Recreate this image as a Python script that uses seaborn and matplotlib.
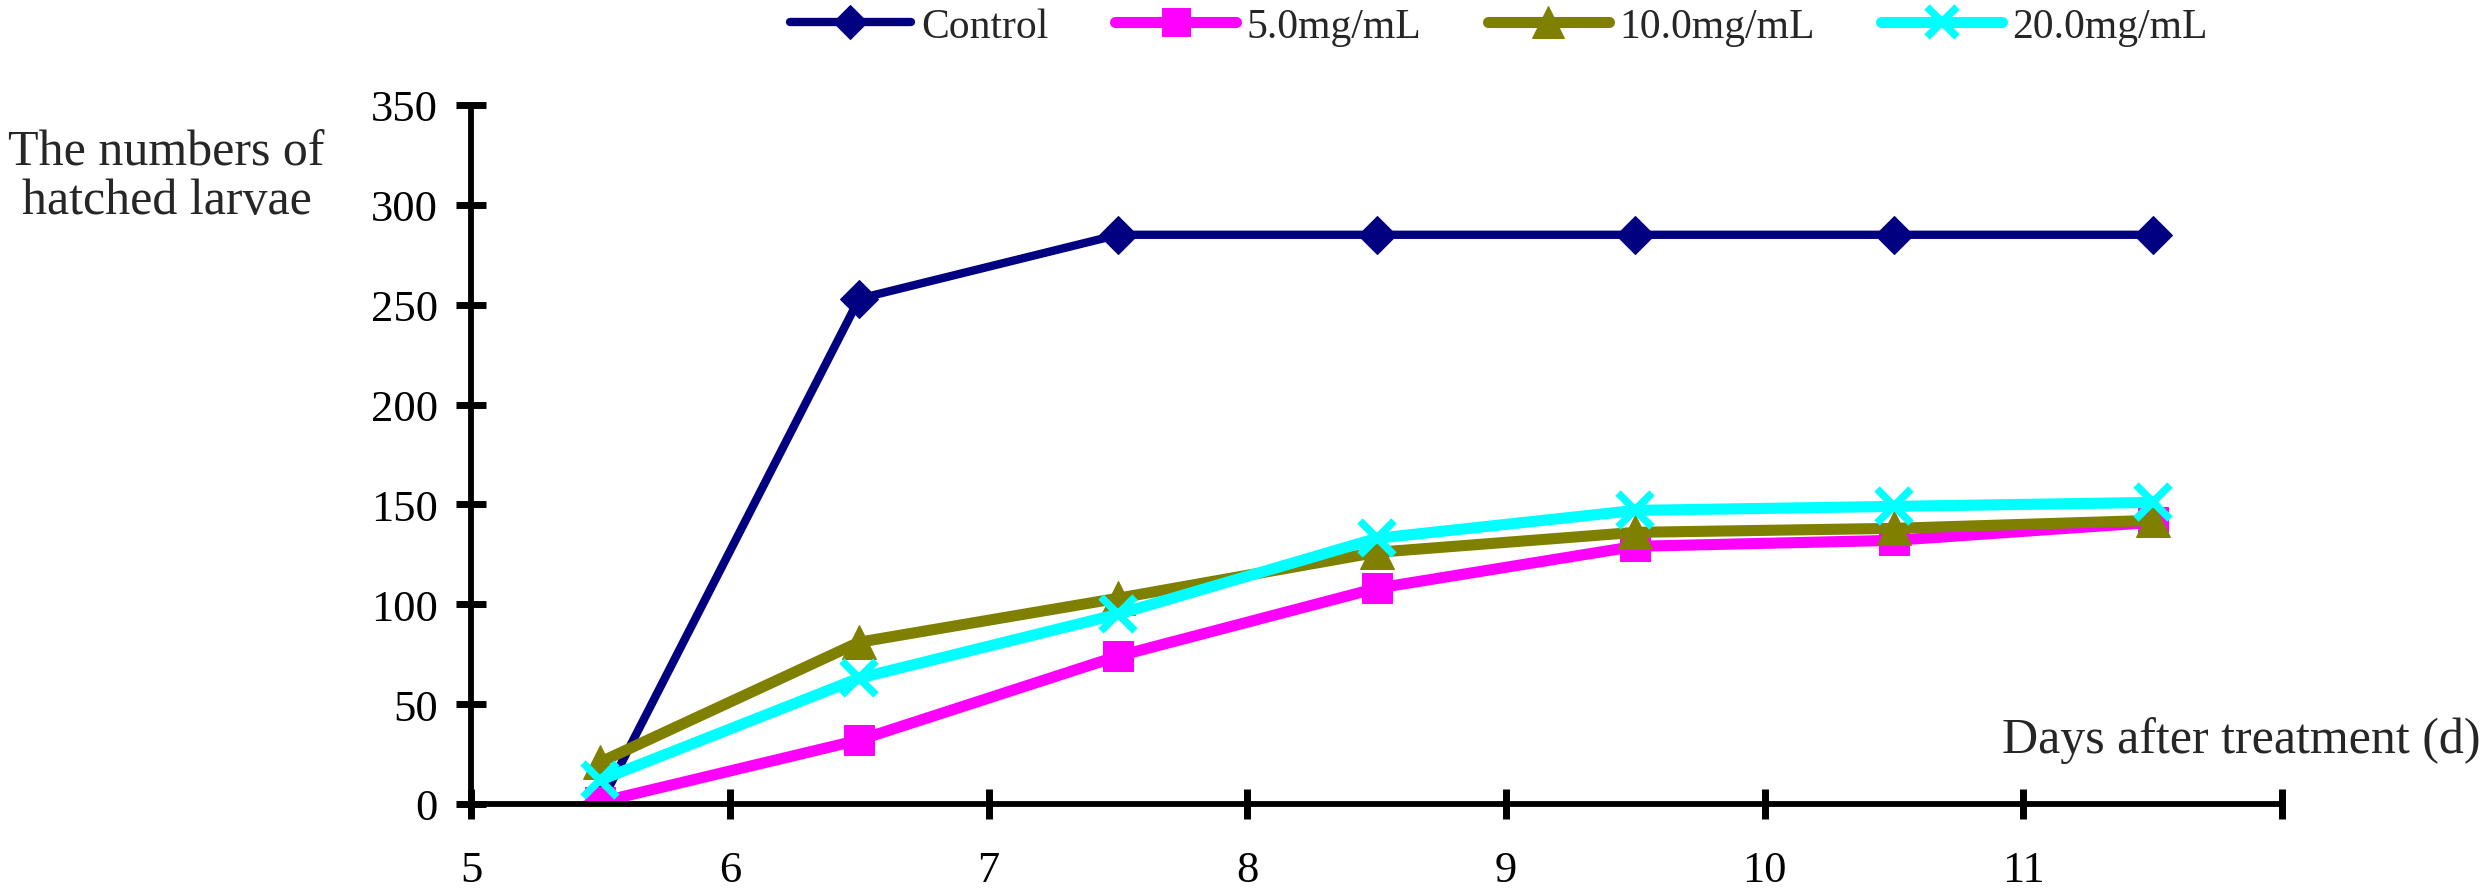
import numpy as np
import pandas as pd
import matplotlib
matplotlib.use("Agg")
import matplotlib.pyplot as plt
import seaborn as sns

days = ["5", "6", "7", "8", "9", "10", "11"]
control = [0, 253, 285, 285, 285, 285, 285]
dose_5 = [1, 32, 74, 108, 129, 132, 141]
dose_10 = [21, 81, 103, 126, 136, 138, 142]
dose_20 = [12, 63, 95, 133, 147, 149, 151]
series_names = ["Control", "5.0mg/mL", "10.0mg/mL", "20.0mg/mL"]
series_values = [control, dose_5, dose_10, dose_20]
colors = ["#000080", "#FF00FF", "#808000", "#00FFFF"]
markers = ["D", "s", "^", "x"]

sns.set_style("white")
plt.rcParams["font.family"] = ["Liberation Serif", "DejaVu Serif"]

fig = plt.figure(figsize=(24.86, 8.95), dpi=100)
ax = fig.add_axes([0.1895, 0.1006, 0.7285, 0.781])

pos = np.arange(len(days))
for name, vals, c, m in zip(series_names, series_values, colors, markers):
    df = pd.DataFrame({"x": pos, "y": vals})
    lw = 6.0 if name == "Control" else 8.0
    kw = dict(marker=m, markerfacecolor=c, markeredgecolor=c)
    if m == "s":
        kw.update(markersize=22)
    if m == "^":
        kw.update(markersize=25)
    if m == "D":
        kw.update(markersize=19)
    if m == "x":
        kw.update(markersize=24, markeredgewidth=5.5)
    sns.lineplot(data=df, x="x", y="y", ax=ax, color=c, linewidth=lw,
                 label=name, **kw)

ax.set_xlim(-0.5, 6.5)
ax.set_ylim(0, 350)
ax.set_xticks(np.arange(-0.5, 7.0, 1.0))
ax.set_xticklabels(days + [""])
ax.set_yticks(np.arange(0, 351, 50))
ax.set_xlabel("")
ax.set_ylabel("")

for s in ["top", "right"]:
    ax.spines[s].set_visible(False)
for s in ["left", "bottom"]:
    ax.spines[s].set_linewidth(4.2)
    ax.spines[s].set_color("black")
    ax.spines[s].set_capstyle("butt")

ax.tick_params(axis="both", direction="inout", length=22, width=5,
               color="black", labelsize=32, labelcolor="black",
               bottom=True, left=True)
ax.tick_params(axis="y", pad=13)
ax.tick_params(axis="x", pad=22)
ax.grid(False)

leg = ax.legend(loc="center", bbox_to_anchor=(0.603, 0.969),
                bbox_transform=fig.transFigure, ncol=4, frameon=False,
                fontsize=30, handlelength=2.9, handletextpad=0.25,
                columnspacing=1.6, markerscale=0.9)

fig.text(0.067, 0.802, "The numbers of\nhatched larvae", ha="center",
         va="center", fontsize=36, linespacing=1.05)
fig.text(0.998, 0.173, "Days after treatment (d)", ha="right",
         va="center", fontsize=36)

fig.savefig("out.png", dpi=100)
